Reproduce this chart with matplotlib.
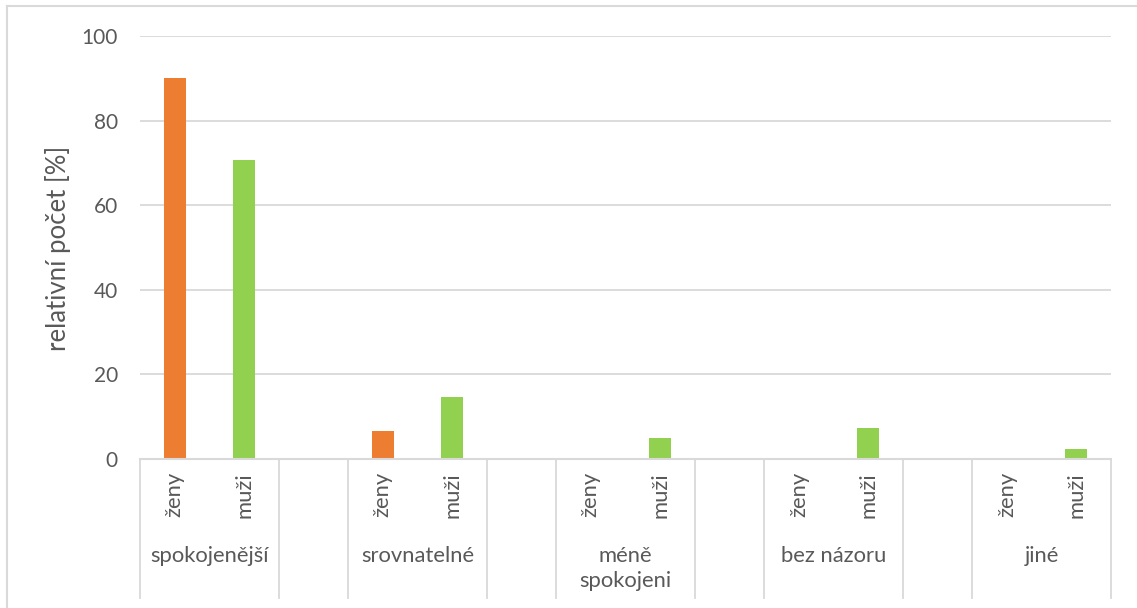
import matplotlib
matplotlib.use('Agg')
import matplotlib.pyplot as plt
from matplotlib.lines import Line2D
import numpy as np

plt.rcParams['font.family'] = ['Lato', 'DejaVu Sans']

# ==== data: relative counts in % ====
groups = ['spokojenější', 'srovnatelné', 'méně\nspokojeni', 'bez názoru', 'jiné']
sexes = ['ženy', 'muži']
zeny = [90.0, 6.7, 0.0, 0.0, 0.0]
muzi = [70.7, 14.6, 4.9, 7.3, 2.4]

colors = ['#ED7D31', '#92D050']
text_c = '#595959'
grid_c = '#D9D9D9'
fs = 15.8

W, H = 1137, 608
fig = plt.figure(figsize=(W / 100, H / 100), dpi=100)
ax = fig.add_axes([140 / W, 1 - 459 / H, (1111 - 140) / W, (459 - 36) / H])

# each group takes 2 slots + 1 empty slot between groups
pos_z = np.arange(len(groups)) * 3
pos_m = pos_z + 1
bw = 0.32
ax.bar(pos_z, zeny, width=bw, color=colors[0], zorder=2)
ax.bar(pos_m, muzi, width=bw, color=colors[1], zorder=2)

ax.set_xlim(-0.5, 3 * len(groups) - 1.5)
ax.set_ylim(0, 100)
ax.set_yticks(np.arange(0, 101, 20))
ax.tick_params(axis='y', length=0, pad=16, labelsize=15, labelcolor=text_c)
ax.set_xticks([])
ax.grid(True, axis='y', color=grid_c, linewidth=1.3, zorder=0)
for s in ['left', 'right', 'top']:
    ax.spines[s].set_visible(False)
ax.spines['bottom'].set_color(grid_c)
ax.spines['bottom'].set_linewidth(1.5)
ax.spines['bottom'].set_zorder(3)

# multi-level category axis
tr = ax.get_xaxis_transform()
y_end = -(598 - 459) / 423
seps = []
for g in range(len(groups)):
    seps += [3 * g - 0.5, 3 * g + 1.5]
for x in seps:
    ax.add_line(Line2D([x, x], [0, y_end], transform=tr, color=grid_c,
                       linewidth=1.3, clip_on=False))

for g, name in enumerate(groups):
    for k, lab in enumerate(sexes):
        ax.text(3 * g + k, -0.031, lab, transform=tr, rotation=90,
                ha='center', va='top', fontsize=fs, color=text_c)
    ax.text(3 * g + 0.5, -0.205, name, transform=tr, ha='center', va='top',
            fontsize=fs, color=text_c, linespacing=1.34)

fig.text(58 / W, 1 - 248 / H, 'relativní počet [%]', rotation=90,
         ha='center', va='center', fontsize=18.5, color=text_c)

# chart frame
fig.add_artist(Line2D([7 / W, 7 / W], [0, 1 - 6 / H], color=grid_c, linewidth=1.5))
fig.add_artist(Line2D([7 / W, 1], [1 - 6 / H, 1 - 6 / H], color=grid_c, linewidth=1.5))

fig.savefig('out.png', dpi=100)
